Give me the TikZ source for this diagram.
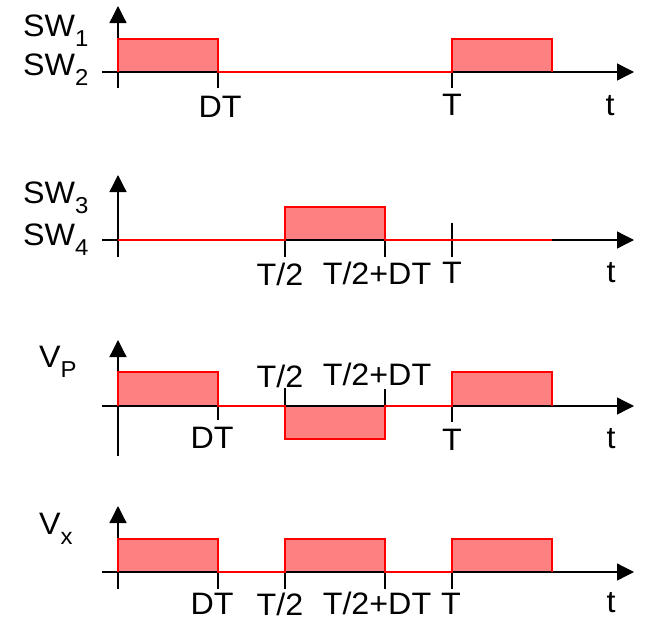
\documentclass[tikz,border=0pt]{standalone}
\usepackage{fontspec}
\setmainfont[FakeStretch=1.04]{Liberation Sans}
\usetikzlibrary{arrows.meta}
\newcommand\lsub[1]{\raisebox{-10pt}{\fontsize{23}{23}\selectfont #1}}
\tikzset{
  axisline/.style={line width=1.3pt, -{Triangle[length=17pt,width=17pt]}},
  vaxis/.style={line width=1.3pt, -{Triangle[length=17pt,width=17pt]}},
  tickmark/.style={line width=1.1pt},
  pulsefill/.style={fill=red!50, draw=none},
  wave/.style={draw=red, line width=1.6pt, line join=miter},
  lbl/.style={font=\fontsize{31}{33}\selectfont, inner sep=0pt, anchor=base},
  lblw/.style={font=\fontsize{31}{33}\selectfont, inner sep=0pt, anchor=base west},
}
\begin{document}
\begin{tikzpicture}[x=1pt,y=-1pt]
\useasboundingbox (0,0) rectangle (648,621);
% ---------- Panel 1 ----------
\coordinate (a1l) at (102,72); \coordinate (a1r) at (634,72);
\coordinate (v1b) at (118,88); \coordinate (v1t) at (118,6);
\fill[pulsefill] (118,39) rectangle (218,72);
\fill[pulsefill] (452,39) rectangle (552,72);
\draw[axisline] (a1l) -- (a1r);
\draw[vaxis] (v1b) -- (v1t);
\draw[tickmark] (218,72) -- (218,88);
\draw[tickmark] (452,72) -- (452,88);
\draw[wave] (118,72) -- (118,39) -- (218,39) -- (218,72) -- (452,72) -- (452,39) -- (552,39) -- (552,72);
\node[lblw] (sw1) at (23,36) {SW\lsub{1}};
\node[lblw] (sw2) at (23,75) {SW\lsub{2}};
\node[lbl] (p1dt) at (220,117) {DT};
\node[lbl] (p1T) at (452,115) {T};
\node[lbl] (p1t) at (610,115) {t};
% ---------- Panel 2 ----------
\coordinate (a2l) at (102,240); \coordinate (a2r) at (634,240);
\coordinate (v2b) at (118,257); \coordinate (v2t) at (118,175);
\fill[pulsefill] (285,207) rectangle (385,240);
\draw[axisline] (a2l) -- (a2r);
\draw[vaxis] (v2b) -- (v2t);
\draw[tickmark] (285,240) -- (285,257);
\draw[tickmark] (385,240) -- (385,257);
\draw[tickmark] (452,223) -- (452,257);
\draw[wave] (118,240) -- (285,240) -- (285,207) -- (385,207) -- (385,240) -- (552,240);
\node[lblw] (sw3) at (23,203) {SW\lsub{3}};
\node[lblw] (sw4) at (23,245) {SW\lsub{4}};
\node[lbl] (p2th) at (280,285) {T/2};
\node[lbl] (p2thdt) at (377,284) {T/2+DT};
\node[lbl] (p2T) at (452,283) {T};
\node[lbl] (p2t) at (611,282) {t};
% ---------- Panel 3 ----------
\coordinate (a3l) at (102,406); \coordinate (a3r) at (634,406);
\coordinate (v3b) at (118,456); \coordinate (v3t) at (118,340);
\fill[pulsefill] (118,372) rectangle (218,406);
\fill[pulsefill] (285,406) rectangle (385,439);
\fill[pulsefill] (452,372) rectangle (552,406);
\draw[axisline] (a3l) -- (a3r);
\draw[vaxis] (v3b) -- (v3t);
\draw[tickmark] (218,406) -- (218,420);
\draw[tickmark] (285,388) -- (285,406);
\draw[tickmark] (385,389) -- (385,406);
\draw[tickmark] (452,406) -- (452,422);
\draw[wave] (118,406) -- (118,372) -- (218,372) -- (218,406) -- (285,406) -- (285,439) -- (385,439) -- (385,406) -- (452,406) -- (452,372) -- (552,372) -- (552,406);
\node[lblw] (vp) at (39,367) {V\lsub{P}};
\node[lbl] (p3dt) at (212,448) {DT};
\node[lbl] (p3th) at (280,387) {T/2};
\node[lbl] (p3thdt) at (377,385) {T/2+DT};
\node[lbl] (p3T) at (452,450) {T};
\node[lbl] (p3t) at (611,448) {t};
% ---------- Panel 4 ----------
\coordinate (a4l) at (102,572); \coordinate (a4r) at (634,572);
\coordinate (v4b) at (118,589); \coordinate (v4t) at (118,506);
\fill[pulsefill] (118,539) rectangle (218,572);
\fill[pulsefill] (285,539) rectangle (385,572);
\fill[pulsefill] (452,539) rectangle (552,572);
\draw[axisline] (a4l) -- (a4r);
\draw[vaxis] (v4b) -- (v4t);
\draw[tickmark] (218,572) -- (218,589);
\draw[tickmark] (285,572) -- (285,589);
\draw[tickmark] (385,572) -- (385,589);
\draw[tickmark] (452,572) -- (452,589);
\draw[wave] (118,572) -- (118,539) -- (218,539) -- (218,572) -- (285,572) -- (285,539) -- (385,539) -- (385,572) -- (452,572) -- (452,539) -- (552,539) -- (552,572);
\node[lblw] (vx) at (39,534) {V\lsub{x}};
\node[lbl] (p4dt) at (212,614) {DT};
\node[lbl] (p4th) at (280,615) {T/2};
\node[lbl] (p4thdt) at (377,614) {T/2+DT};
\node[lbl] (p4T) at (451,614) {T};
\node[lbl] (p4t) at (611,612) {t};
\end{tikzpicture}
\end{document}
